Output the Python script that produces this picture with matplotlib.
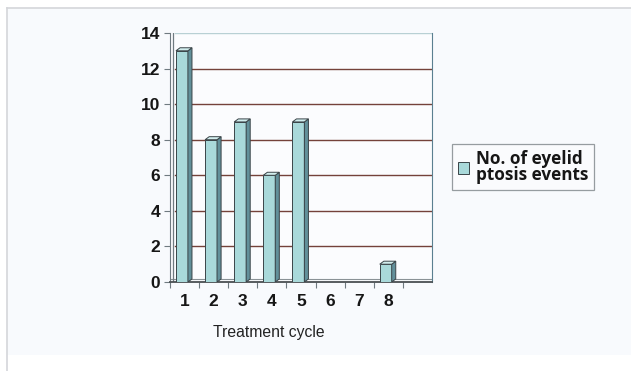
import matplotlib.pyplot as plt
from matplotlib.patches import Polygon, Patch, Rectangle
from matplotlib.lines import Line2D

# data
cycles = ['1', '2', '3', '4', '5', '6', '7', '8', '']
events = [13, 8, 9, 6, 9, 0, 0, 1, 0]
y_ticks = [0, 2, 4, 6, 8, 10, 12, 14]

front = '#a9d9da'
side = '#62909a'
top = '#d2eeee'
edge = '#3a4448'
grid_col = '#74423a'
bg = '#f8fafd'

W, H = 631, 371
fig = plt.figure(figsize=(W / 100, H / 100), dpi=100)
fig.patch.set_facecolor('white')

# page background + thin frame
fig.patches.append(Rectangle((7 / W, (H - 355) / H), 1 - 7 / W, (355 - 8) / H,
                             transform=fig.transFigure, facecolor=bg, edgecolor='none', zorder=-5))
fig.lines.append(Line2D([7 / W, 1], [1 - 8 / H, 1 - 8 / H], transform=fig.transFigure,
                        color='#d4d6da', lw=1.2))
fig.lines.append(Line2D([7 / W, 7 / W], [0, 1 - 8 / H], transform=fig.transFigure,
                        color='#d4d6da', lw=1.2))

ax = fig.add_axes([170 / W, (H - 282) / H, (432 - 170) / W, (282 - 33) / H])
ax.set_facecolor('#fbfcfe')

x = list(range(1, len(cycles) + 1))
ax.set_xlim(0.5, len(cycles) + 0.5)
ax.set_ylim(0, 14)

# pseudo-3D depth in data units
dx, dy = 0.14, 0.17
off = -0.09
bw = 0.41

# grid lines on the back wall
for t in y_ticks[1:-1]:
    ax.axhline(t, xmin=0.02, xmax=1, color=grid_col, lw=1.0, zorder=1)
ax.axhline(14, xmin=0.02, xmax=1, color='#b8d0d4', lw=1.0, zorder=1)

# floor
ax.axhline(dy, color='#8a9296', lw=0.8, zorder=1)

for xi, v in zip(x, events):
    if v == 0:
        continue
    x0 = xi + off - bw / 2
    x1 = x0 + bw
    ax.bar(xi + off, v, width=bw, color=front, edgecolor=edge, linewidth=0.7, zorder=3)
    ax.add_patch(Polygon([(x1, 0), (x1 + dx, dy), (x1 + dx, v + dy), (x1, v)],
                         closed=True, facecolor=side, edgecolor=edge, lw=0.7, zorder=3))
    ax.add_patch(Polygon([(x0, v), (x0 + dx, v + dy), (x1 + dx, v + dy), (x1, v)],
                         closed=True, facecolor=top, edgecolor=edge, lw=0.7, zorder=3))

# axes / walls
ax.spines['top'].set_visible(False)
ax.spines['left'].set_color('#6f7a80')
ax.spines['right'].set_color('#5a7f90')
ax.spines['bottom'].set_color('#4a4f52')
ax.spines['bottom'].set_linewidth(1.3)
ax.axvline(0.5 + 0.12, ymin=0, ymax=1, color='#6f7a80', lw=0.9, zorder=2)

ax.set_yticks(y_ticks)
ax.set_yticklabels([str(t) for t in y_ticks], fontsize=12.5, fontweight='heavy',
                   family='Liberation Sans', color='#161616')
ax.tick_params(axis='y', length=4, width=0.8, color='#6f7a80', pad=3)

ax.set_xticks(x)
ax.set_xticklabels(cycles, fontsize=12.5, fontweight='heavy', family='Liberation Sans',
                   color='#161616')
ax.tick_params(axis='x', length=0, pad=9)
ax.set_xticks([i + 0.5 for i in range(len(cycles))], minor=True)
ax.tick_params(axis='x', which='minor', length=4, width=0.8, color='#6f7a80')

fig.text(269 / W, 1 - 332 / H, 'Treatment cycle', ha='center', va='center',
         fontsize=11.3, family='Liberation Sans', color='#222222')

leg = fig.legend(handles=[Patch(facecolor=front, edgecolor=edge, linewidth=0.7)],
                 labels=['No. of eyelid\nptosis events'],
                 loc='upper left', bbox_to_anchor=(452 / W, 1 - 144 / H),
                 frameon=True, fancybox=False, handlelength=0.65, handleheight=0.65,
                 handletextpad=0.4, borderpad=0.35, labelspacing=0.1, borderaxespad=0,
                 prop={'family': 'Open Sans', 'weight': 'bold', 'size': 12.3})
leg.get_frame().set_edgecolor('#7d8589')
leg.get_frame().set_facecolor('#fbfcfe')
leg.get_frame().set_linewidth(0.9)
for t in leg.get_texts():
    t.set_linespacing(0.85)
    t.set_color('#161616')

fig.savefig('out.png', dpi=100, facecolor=fig.get_facecolor())
